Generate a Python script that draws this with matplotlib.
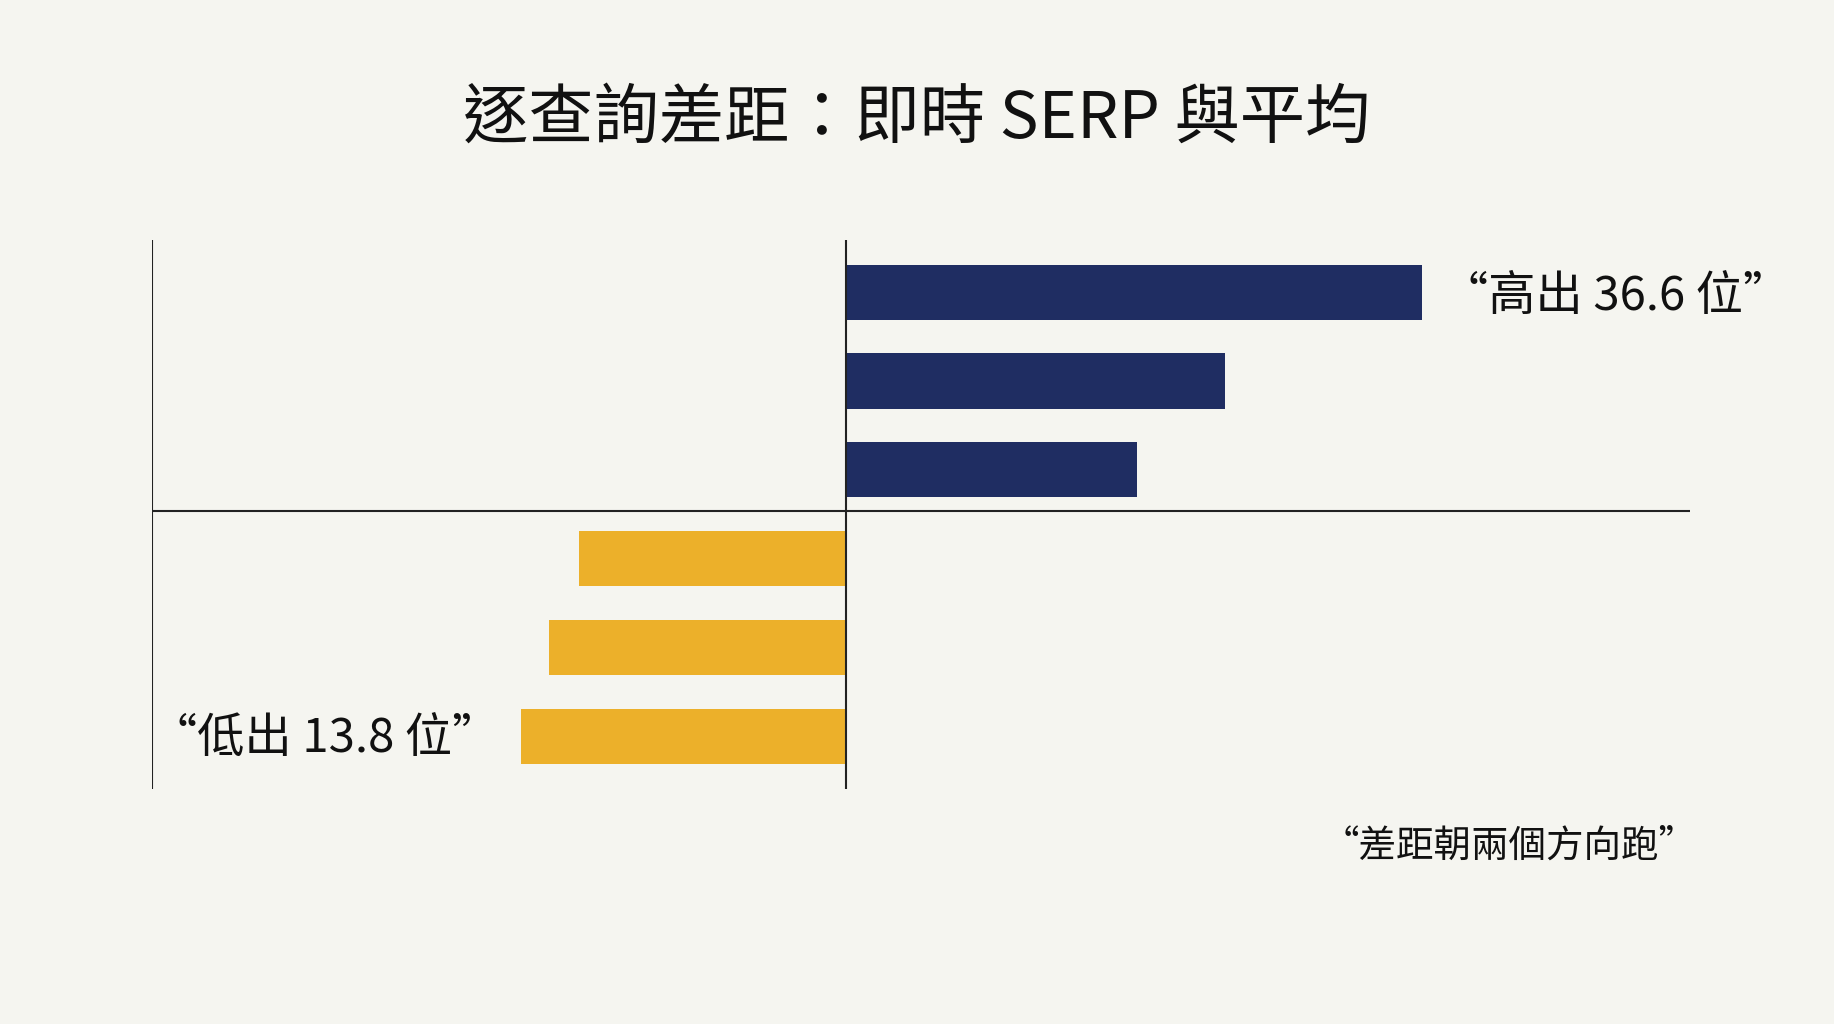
import matplotlib
matplotlib.use("Agg")
import matplotlib.pyplot as plt

plt.rcParams['font.family'] = ['Noto Sans CJK TC', 'DejaVu Sans']

positions = [0, 1, 2, 3, 4, 5]
values = [36.6, 24.1, 18.5, -16.9, -18.8, -20.6]
colors = ['#1f2d62'] * 3 + ['#ecb02a'] * 3
title = "逐查詢差距：即時 SERP 與平均"
top_label = "“高出 36.6 位”"
bottom_label = "“低出 13.8 位”"
note = "“差距朝兩個方向跑”"

bg = '#f5f5f0'
fig = plt.figure(figsize=(18.34, 10.24), dpi=100, facecolor=bg)
ax = fig.add_axes([0.083, 0.2295, 0.8386, 0.5365])
ax.set_facecolor(bg)
ax.barh(positions, values, height=0.62, color=colors, zorder=2)
ax.set_xlim(-44.0, 53.6)
ax.set_ylim(5.59, -0.59)
for s in ax.spines.values():
    s.set_visible(False)
ax.set_xticks([]); ax.set_yticks([])
ax.axvline(-44.0, color='#222', lw=1.5)
ax.axvline(0, color='#222', lw=1.5, zorder=3)
ax.axhline(2.46, color='#222', lw=1.5, zorder=1)

ax.text(values[0] + 1.2, positions[0] + 0.05, top_label, ha='left', va='center',
        fontsize=34, color='#111')
ax.text(values[5] - 1.4, positions[5] + 0.02, bottom_label, ha='right', va='center',
        fontsize=34, color='#111')

fig.text(0.5, 0.883, title, ha='center', va='center', fontsize=47, color='#111')
fig.text(0.925, 0.174, note, ha='right', va='center', fontsize=27, color='#111')

fig.savefig('out.png', dpi=100, facecolor=bg)
